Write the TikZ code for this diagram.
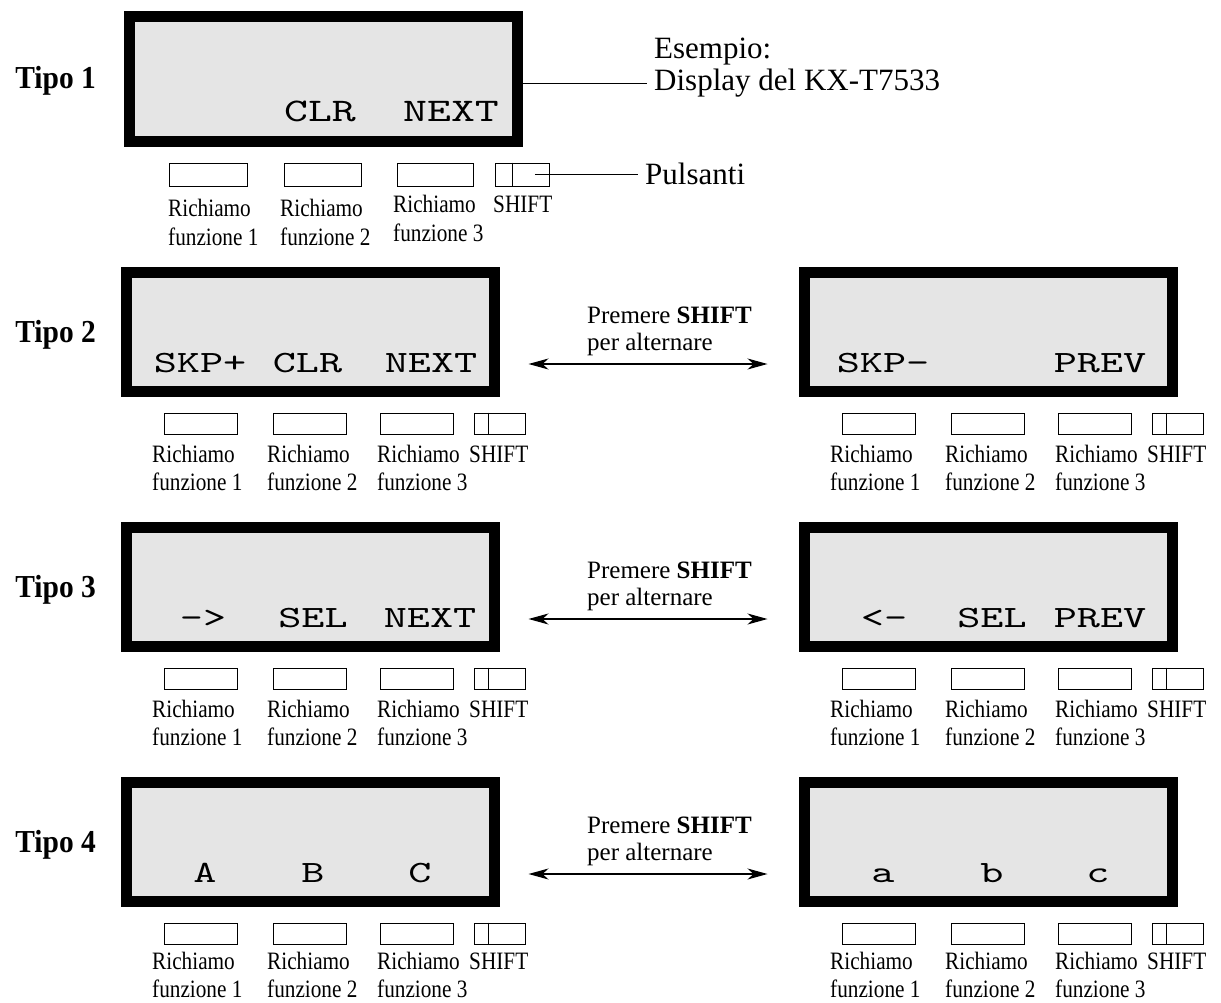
\documentclass[tikz,border=0pt]{standalone}
\usepackage{fontspec}
\setmainfont{Liberation Serif}
\newfontfamily\cond[FakeStretch=0.85]{Liberation Serif}
\newfontfamily\condb[FakeStretch=0.92]{Liberation Serif}
\newfontfamily\lcd[FakeStretch=1.42]{lmmono10-regular.otf}
\newfontfamily\lcdw[FakeStretch=1.38]{lmmono10-regular.otf}
\usetikzlibrary{arrows.meta}
\definecolor{lcdgray}{RGB}{229,229,229}
\tikzset{
 disp/.style={draw=black, line width=11pt, fill=lcdgray, minimum width=368pt, minimum height=119pt, inner sep=0pt},
 dispbig/.style={disp, minimum width=388pt, minimum height=125pt},
 btn/.style={draw=black, line width=0.9pt, fill=white, inner sep=0pt, minimum height=21pt},
 lbl/.style={font=\cond\fontsize{25}{30}\selectfont, anchor=base west, inner sep=0pt},
 lcdtxt/.style={font=\lcd\fontsize{31}{31}\selectfont, anchor=base, inner sep=0pt},
 lcdbig/.style={font=\lcdw\fontsize{33}{33}\selectfont, anchor=base, inner sep=0pt},
 tipo/.style={font=\condb\bfseries\fontsize{32}{32}\selectfont, anchor=base east, inner sep=0pt},
 note/.style={font=\fontsize{25}{27}\selectfont, anchor=base west, inner sep=0pt},
 callout/.style={font=\fontsize{31}{32}\selectfont, anchor=base west, inner xsep=7pt, inner ysep=0pt},
 swap/.style={line width=1.2pt, {Stealth[length=20pt,width=11pt,inset=6pt]}-{Stealth[length=20pt,width=11pt,inset=6pt]}},
 thinline/.style={line width=1pt},
}
% keys and labels for rows 2-4 (geometry of row 2 left, shifted); #4 = extra label shift
\newcommand\keyset[4]{%
 \begin{scope}[shift={(#2,#3)}]
  \node[btn, minimum width=73pt] (#1b1) at (201,423.5) {};
  \node[btn, minimum width=73pt] (#1b2) at (310,423.5) {};
  \node[btn, minimum width=73pt] (#1b3) at (417,423.5) {};
  \node[btn, minimum width=51pt] (#1sh) at (500,423.5) {};
  \draw[line width=0.9pt] ([xshift=14pt]#1sh.north west) -- ([xshift=14pt]#1sh.south west);
  \node[lbl] (#1r1) at (152,462.5+#4) {Richiamo};
  \node[lbl] (#1f1) at (152,490.5+#4) {funzione 1};
  \node[lbl] (#1r2) at (267,462.5+#4) {Richiamo};
  \node[lbl] (#1f2) at (267,490.5+#4) {funzione 2};
  \node[lbl] (#1r3) at (377,462.5+#4) {Richiamo};
  \node[lbl] (#1f3) at (377,490.5+#4) {funzione 3};
  \node[lbl] (#1s) at (469,462.5+#4) {SHIFT};
 \end{scope}}
\newcommand\swapnote[2]{%
  \node[note] (#1a) at (587,#2) {Premere \textbf{SHIFT}};
  \node[note] (#1b) at (587,#2+27) {per alternare};}
\begin{document}
\begin{tikzpicture}[x=1pt,y=-1pt]
\useasboundingbox (0,0) rectangle (1221,1003);

% ---------- Tipo 1 ----------
\node[tipo] (t1) at (96,89) {Tipo 1};
\node[dispbig] (d1) at (323.5,79) {};
\node[lcdbig] (d1t2) at (320,122) {CLR};
\node[lcdbig] (d1t3) at (451,122) {NEXT};
\node[btn, minimum width=78pt, minimum height=23pt] (k1b1) at (208.5,174.5) {};
\node[btn, minimum width=77pt, minimum height=23pt] (k1b2) at (323,174.5) {};
\node[btn, minimum width=76pt, minimum height=23pt] (k1b3) at (435.5,174.5) {};
\node[btn, minimum width=54pt, minimum height=23pt] (s1) at (522.5,174.5) {};
\draw[line width=0.9pt] ([xshift=17pt]s1.north west) -- ([xshift=17pt]s1.south west);
\node[lbl] (k1r1) at (168,217) {Richiamo};
\node[lbl] (k1f1) at (168,246) {funzione 1};
\node[lbl] (k1r2) at (280,217) {Richiamo};
\node[lbl] (k1f2) at (280,246) {funzione 2};
\node[lbl] (k1r3) at (393,213) {Richiamo};
\node[lbl] (k1f3) at (393,242) {funzione 3};
\node[lbl] (k1s) at (493,213) {SHIFT};
\node[callout] (esA) at (647,59) {Esempio:};
\node[callout] (esB) at (647,91) {Display del KX-T7533};
\draw[thinline] (d1.east |- esB.west) -- (esB.west);
\node[callout] (puls) at (638,185) {Pulsanti};
\path (s1.east) ++(-15pt,0) coordinate (ptmp);
\coordinate (pstart) at (ptmp |- puls.west);
\draw[thinline] (pstart) -- (puls.west);

% ---------- Tipo 2 ----------
\node[tipo] (t2) at (96,342) {Tipo 2};
\node[disp] (d2L) at (310.5,332) {};
\node[disp] (d2R) at (988.5,332) {};
\node[lcdtxt] (d2L1) at (200,372.5) {SKP+};
\node[lcdtxt] (d2L2) at (307.5,372.5) {CLR};
\node[lcdtxt] (d2L3) at (431,372.5) {NEXT};
\node[lcdtxt] (d2R1) at (883,372.5) {SKP-};
\node[lcdtxt] (d2R3) at (1100,372.5) {PREV};
\keyset{k2L}{0}{0}{0}
\keyset{k2R}{678}{0}{0}
\swapnote{n2}{323}
\draw[swap] ([xshift=28.5pt,yshift=-32pt]d2L.east) -- ([xshift=-31.5pt,yshift=-32pt]d2R.west);

% ---------- Tipo 3 ----------
\node[tipo] (t3) at (96,597) {Tipo 3};
\node[disp] (d3L) at (310.5,587) {};
\node[disp] (d3R) at (988.5,587) {};
\node[lcdtxt] (d3L1) at (203,627.5) {—>};
\node[lcdtxt] (d3L2) at (313,627.5) {SEL};
\node[lcdtxt] (d3L3) at (430,627.5) {NEXT};
\node[lcdtxt] (d3R1) at (884,627.5) {<—};
\node[lcdtxt] (d3R2) at (992,627.5) {SEL};
\node[lcdtxt] (d3R3) at (1100,627.5) {PREV};
\keyset{k3L}{0}{255}{0}
\keyset{k3R}{678}{255}{0}
\swapnote{n3}{578}
\draw[swap] ([xshift=28.5pt,yshift=-32pt]d3L.east) -- ([xshift=-31.5pt,yshift=-32pt]d3R.west);

% ---------- Tipo 4 ----------
\node[tipo] (t4) at (96,852) {Tipo 4};
\node[disp] (d4L) at (310.5,842) {};
\node[disp] (d4R) at (988.5,842) {};
\node[lcdtxt] (d4L1) at (205,882.5) {A};
\node[lcdtxt] (d4L2) at (313,882.5) {B};
\node[lcdtxt] (d4L3) at (420,882.5) {C};
\node[lcdtxt] (d4R1) at (883,882.5) {a};
\node[lcdtxt] (d4R2) at (992,882.5) {b};
\node[lcdtxt] (d4R3) at (1098,882.5) {c};
\keyset{k4L}{0}{510}{-3}
\keyset{k4R}{678}{510}{-3}
\swapnote{n4}{833}
\draw[swap] ([xshift=28.5pt,yshift=-32pt]d4L.east) -- ([xshift=-31.5pt,yshift=-32pt]d4R.west);
\end{tikzpicture}
\end{document}
